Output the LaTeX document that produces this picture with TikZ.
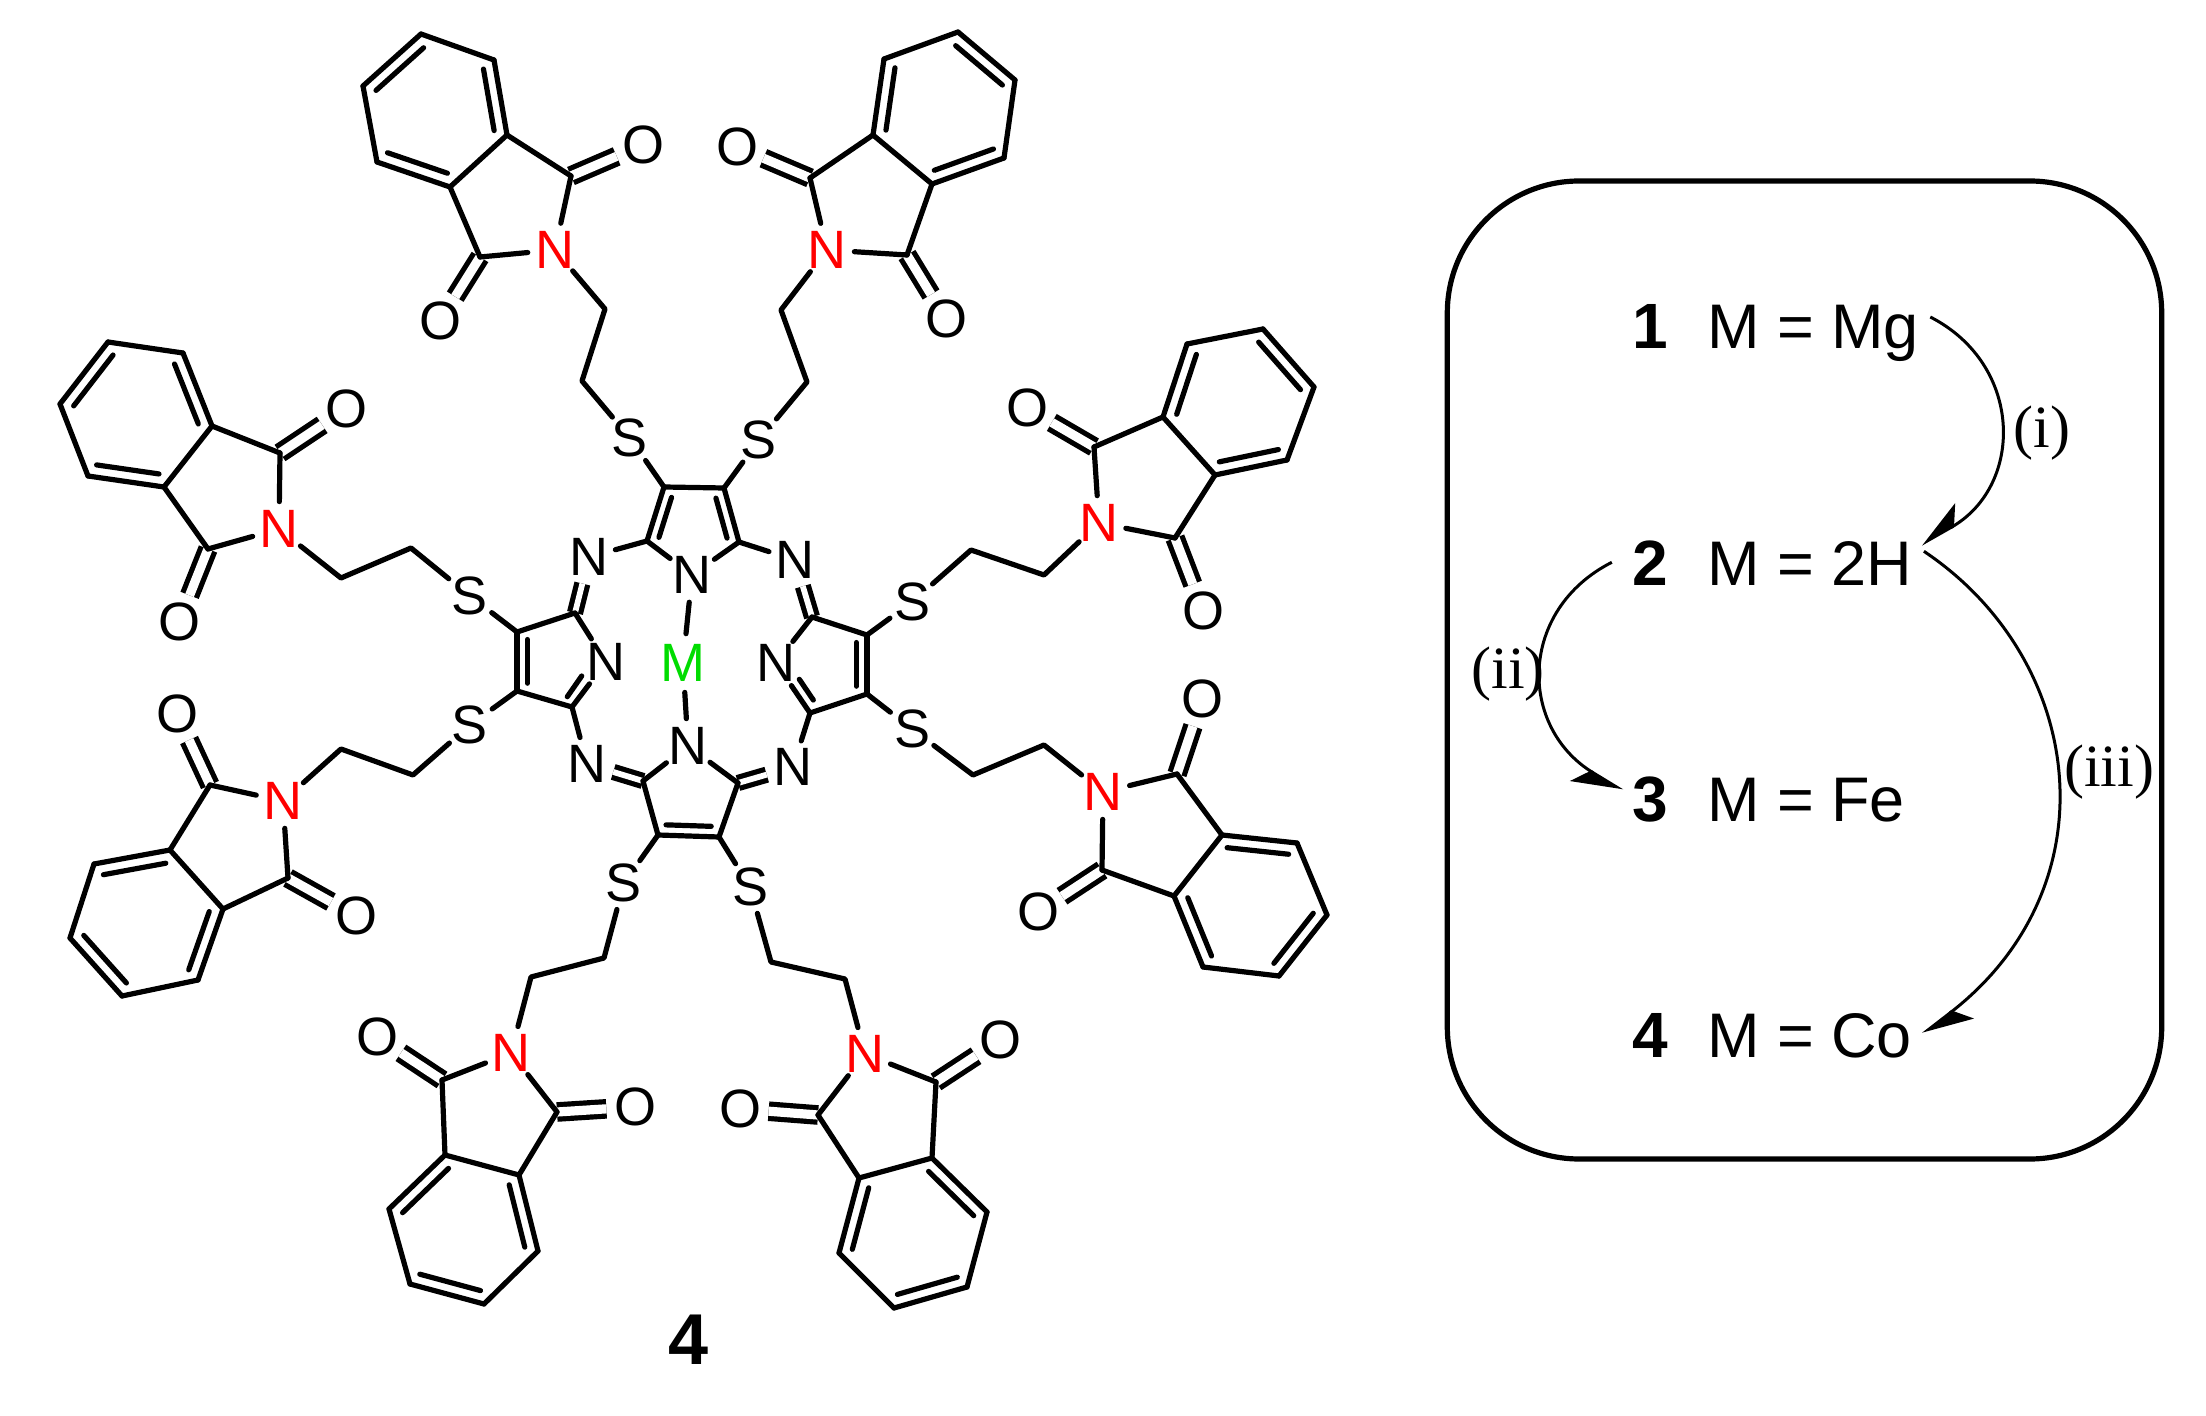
\documentclass[tikz,border=0pt]{standalone}
\usepackage{fontspec}
\setmainfont{Liberation Sans}
\newfontfamily\condfont{Liberation Serif}
\usepackage{tikz}
\usetikzlibrary{positioning, arrows.meta, calc}

\definecolor{metalgreen}{RGB}{0,220,0}

\tikzstyle{atom} = [circle, inner sep=0pt, minimum size=27pt, font=\fontsize{27}{27}\selectfont]
\tikzstyle{imn} = [atom, text=red]
\tikzstyle{bond} = [line width=2.6pt, line cap=round, line join=round]
\tikzstyle{dbl} = [line width=2.6pt, line cap=butt, double, double distance=4.6pt]
\tikzstyle{dblc} = [dbl, double distance=2.9pt]
\tikzstyle{panel} = [draw, line width=2.6pt, rounded corners=66pt, minimum width=357.2pt, minimum height=489pt]
\tikzstyle{numlab} = [inner sep=0pt, text height=23pt, text depth=0pt, font=\fontsize{32}{32}\selectfont\bfseries]
\tikzstyle{rowlab} = [inner sep=0pt, text height=23pt, text depth=0pt, font=\fontsize{31.5}{32}\selectfont]
\tikzstyle{condlab} = [inner sep=0pt, font=\condfont\fontsize{30}{30}\selectfont]
\tikzstyle{curly} = [line width=1.5pt, -{Stealth[harpoon, swap, length=23pt, width=19pt, inset=6pt]}]
\tikzstyle{curlyb} = [line width=1.5pt, -{Stealth[harpoon, length=23pt, width=19pt, inset=6pt]}]

\newcommand{\ringbond}[4][0.18]{%
  \draw[bond] (#2) -- (#3);
  \draw[bond] ($(#2)!#1!(#4)$) -- ($(#3)!#1!(#4)$);
}

\newcommand{\phthal}[2]{%
  \coordinate (#1cen) at ($(#1v1)!0.5!(#1v4)$);
  \draw[dbl] (#1ca) -- (#1oa);
  \draw[dbl] (#1cb) -- (#1ob);
  \ringbond{#1v1}{#1v2}{#1cen}
  \ringbond{#1v3}{#1v4}{#1cen}
  \ringbond{#1v5}{#1v6}{#1cen}
  \draw[bond] (#1v2) -- (#1v3) (#1v4) -- (#1v5) (#1v6) -- (#1v1);
  \draw[bond] (#1v5) -- (#1ca) (#1v4) -- (#1cb);
  \draw[bond] (#1ca) -- (#1n);
  \draw[bond] (#1cb) -- (#1n);
  \draw[bond] (#1n) -- (#1ch1) -- (#1ch2) -- (#2);
}

\begin{document}
\begin{tikzpicture}[x=0.5pt, y=-0.5pt, >=Stealth]

    \useasboundingbox (0,0) rectangle (2206,1416);

    \node[atom, text=metalgreen] (m) at (683,663) {M};

    \node[atom] (tn) at (692,575) {N};
    \coordinate (tal) at (647,541);
    \coordinate (tar) at (739,542);
    \coordinate (tbl) at (664,487);
    \coordinate (tbr) at (724,488);
    \coordinate (tm) at (693,527);

    \node[atom] (un) at (688,746) {N};
    \coordinate (ual) at (643,781);
    \coordinate (uar) at (738,783);
    \coordinate (ubl) at (658,835);
    \coordinate (ubr) at (719,837);
    \coordinate (um) at (689,796);

    \node[atom] (ln) at (606,662) {N};
    \coordinate (lau) at (575,613);
    \coordinate (lad) at (572,707);
    \coordinate (lbu) at (517,632);
    \coordinate (lbd) at (517,691);
    \coordinate (lm) at (557,661);
    \coordinate (li1) at (581.7,676);
    \coordinate (li2) at (567.3,696.7);

    \node[atom] (rn) at (776,663) {N};
    \coordinate (rau) at (812,617);
    \coordinate (rad) at (810,713);
    \coordinate (rbu) at (867,635);
    \coordinate (rbd) at (867,694);
    \coordinate (rm) at (826,664);
    \coordinate (ri1) at (799.3,679.3);
    \coordinate (ri2) at (813.3,700);

    \node[atom] (mnw) at (589,557) {N};
    \node[atom] (mne) at (795,560) {N};
    \node[atom] (msw) at (587,764) {N};
    \node[atom] (mse) at (793,767) {N};

    \node[atom] (sa) at (630,438) {S};
    \node[atom] (sb) at (759,440) {S};
    \node[atom] (sc) at (912,602) {S};
    \node[atom] (sd) at (912,729) {S};
    \node[atom] (se) at (750,887) {S};
    \node[atom] (sf) at (624,883) {S};
    \node[atom] (sg) at (470,725) {S};
    \node[atom] (sh) at (470,596) {S};

    \draw[dblc] (lau) -- (mnw);
    \draw[dblc] (rau) -- (mne);
    \draw[dblc] (ual) -- (msw);
    \draw[dblc] (uar) -- (mse);

    \ringbond[0.26]{tal}{tbl}{tm}
    \ringbond[0.26]{tar}{tbr}{tm}
    \ringbond[0.26]{ubl}{ubr}{um}
    \ringbond[0.26]{lbu}{lbd}{lm}
    \ringbond[0.26]{rbu}{rbd}{rm}

    \draw[bond] (tal) -- (tn);
    \draw[bond] (tar) -- (tn);
    \draw[bond] (tal) -- (mnw);
    \draw[bond] (tar) -- (mne);
    \draw[bond] (tbl) -- (tbr);
    \draw[bond] (ual) -- (un);
    \draw[bond] (uar) -- (un);
    \draw[bond] (ubl) -- (ual);
    \draw[bond] (ubr) -- (uar);
    \draw[bond] (lau) -- (ln);
    \draw[bond] (lad) -- (ln);
    \draw[bond] (li1) -- (li2);
    \draw[bond] (lbu) -- (lau);
    \draw[bond] (lbd) -- (lad);
    \draw[bond] (lad) -- (msw);
    \draw[bond] (rau) -- (rn);
    \draw[bond] (rad) -- (rn);
    \draw[bond] (ri1) -- (ri2);
    \draw[bond] (rbu) -- (rau);
    \draw[bond] (rbd) -- (rad);
    \draw[bond] (rad) -- (mse);
    \draw[bond] (tn) -- (m);
    \draw[bond] (m) -- (un);

    \draw[bond] (tbl) -- (sa);
    \draw[bond] (tbr) -- (sb);
    \draw[bond] (rbu) -- (sc);
    \draw[bond] (rbd) -- (sd);
    \draw[bond] (ubr) -- (se);
    \draw[bond] (ubl) -- (sf);
    \draw[bond] (lbd) -- (sg);
    \draw[bond] (lbu) -- (sh);

    \coordinate (av1) at (421,34);   \coordinate (av2) at (363,86);   \coordinate (av3) at (377,162);
    \coordinate (av4) at (450,187);  \coordinate (av5) at (507,135);  \coordinate (av6) at (494,60);
    \coordinate (aca) at (571,176);  \coordinate (acb) at (480,257);
    \coordinate (ach1) at (605,309); \coordinate (ach2) at (582,381);
    \node[imn] (an) at (555,250) {N};
    \node[atom] (aoa) at (643,145) {O};
    \node[atom] (aob) at (440,321) {O};
    \phthal{a}{sa}

    \coordinate (bv1) at (958,32);   \coordinate (bv2) at (1015,80);  \coordinate (bv3) at (1004,158);
    \coordinate (bv4) at (932,184);  \coordinate (bv5) at (873,135);  \coordinate (bv6) at (884,59);
    \coordinate (bca) at (810,178);  \coordinate (bcb) at (907,255);
    \coordinate (bch1) at (781,310); \coordinate (bch2) at (807,382);
    \node[imn] (bn) at (827,250) {N};
    \node[atom] (boa) at (737,147) {O};
    \node[atom] (bob) at (946,319) {O};
    \phthal{b}{sb}

    \coordinate (cv1) at (1263,329); \coordinate (cv2) at (1314,387); \coordinate (cv3) at (1287,460);
    \coordinate (cv4) at (1215,475); \coordinate (cv5) at (1163,417); \coordinate (cv6) at (1187,344);
    \coordinate (cca) at (1094,447); \coordinate (ccb) at (1175,538);
    \coordinate (cch1) at (1044,575); \coordinate (cch2) at (971,550);
    \node[imn] (cn) at (1099,523) {N};
    \node[atom] (coa) at (1027,408) {O};
    \node[atom] (cob) at (1203,611) {O};
    \phthal{c}{sc}

    \coordinate (dv1) at (1327,915); \coordinate (dv2) at (1279,976); \coordinate (dv3) at (1203,967);
    \coordinate (dv4) at (1174,896); \coordinate (dv5) at (1222,835); \coordinate (dv6) at (1297,843);
    \coordinate (dca) at (1177,774); \coordinate (dcb) at (1102,870);
    \coordinate (dch1) at (1044,745); \coordinate (dch2) at (973,775);
    \node[imn] (dn) at (1103,792) {N};
    \node[atom] (doa) at (1202,699) {O};
    \node[atom] (dob) at (1038,912) {O};
    \phthal{d}{sd}

    \coordinate (ev1) at (967,1287); \coordinate (ev2) at (894,1308); \coordinate (ev3) at (839,1253);
    \coordinate (ev4) at (859,1178); \coordinate (ev5) at (932,1158); \coordinate (ev6) at (987,1212);
    \coordinate (eca) at (936,1082); \coordinate (ecb) at (818,1115);
    \coordinate (ech1) at (845,979); \coordinate (ech2) at (771,962);
    \node[imn] (en) at (865,1054) {N};
    \node[atom] (eoa) at (1000,1040) {O};
    \node[atom] (eob) at (740,1109) {O};
    \phthal{e}{se}

    \coordinate (fv1) at (410,1284); \coordinate (fv2) at (484,1304); \coordinate (fv3) at (538,1251);
    \coordinate (fv4) at (519,1175); \coordinate (fv5) at (445,1155); \coordinate (fv6) at (389,1209);
    \coordinate (fca) at (442,1080); \coordinate (fcb) at (557,1112);
    \coordinate (fch1) at (531,977); \coordinate (fch2) at (604,958);
    \node[imn] (fn) at (511,1053) {N};
    \node[atom] (foa) at (377,1037) {O};
    \node[atom] (fob) at (635,1107) {O};
    \phthal{f}{sf}

    \coordinate (gv1) at (70,938);   \coordinate (gv2) at (122,996);  \coordinate (gv3) at (198,980);
    \coordinate (gv4) at (223,909);  \coordinate (gv5) at (170,850);  \coordinate (gv6) at (94,864);
    \coordinate (gca) at (210,785);  \coordinate (gcb) at (288,878);
    \coordinate (gch1) at (341,749); \coordinate (gch2) at (413,775);
    \node[imn] (gn) at (283,801) {N};
    \node[atom] (goa) at (177,714) {O};
    \node[atom] (gob) at (356,916) {O};
    \phthal{g}{sg}

    \coordinate (hv1) at (108,342);  \coordinate (hv2) at (60,404);   \coordinate (hv3) at (88,476);
    \coordinate (hv4) at (164,487);  \coordinate (hv5) at (212,426);  \coordinate (hv6) at (183,353);
    \coordinate (hca) at (280,453);  \coordinate (hcb) at (208,549);
    \coordinate (hch1) at (341,578); \coordinate (hch2) at (411,548);
    \node[imn] (hn) at (279,529) {N};
    \node[atom] (hoa) at (346,409) {O};
    \node[atom] (hob) at (179,622) {O};
    \phthal{h}{sh}

    \node[font=\fontsize{36}{36}\selectfont\bfseries, inner sep=0pt] (cmpd) at (689,1340) {4};

    \node[panel] (box) at (1804.5,670) {};

    \node[numlab, anchor=base] (n1) at (1650,349) {1};
    \node[numlab, below=94.75pt of n1] (n2) {2};
    \node[numlab, below=94.75pt of n2] (n3) {3};
    \node[numlab, below=94.75pt of n3] (n4) {4};
    \node[rowlab, right=19.25pt of n1] (r1) {M = Mg};
    \node[rowlab, right=19.25pt of n2] (r2) {M = 2H};
    \node[rowlab, right=19.25pt of n3] (r3) {M = Fe};
    \node[rowlab, right=19.25pt of n4] (r4) {M = Co};

    \node[condlab] (c1) at (2042,433) {(i)};
    \node[condlab] (c2) at (1508,674) {(ii)};
    \node[condlab] (c3) at (2109,772) {(iii)};

    \draw[curly] ([xshift=5.5pt, yshift=4.5pt]r1.east) .. controls (2024,365) and (2024,486) .. ([xshift=4.5pt, yshift=9pt]r2.east);
    \draw[curly] ([xshift=-10pt]n2.west) .. controls (1518,610) and (1518,727) .. ([xshift=-4.7pt, yshift=4pt]n3.west);
    \draw[curlyb] ([xshift=5.8pt, yshift=5.5pt]r2.east) .. controls (2086,660) and (2114,886) .. ([xshift=5.3pt, yshift=0.5pt]r4.east);

\end{tikzpicture}
\end{document}
